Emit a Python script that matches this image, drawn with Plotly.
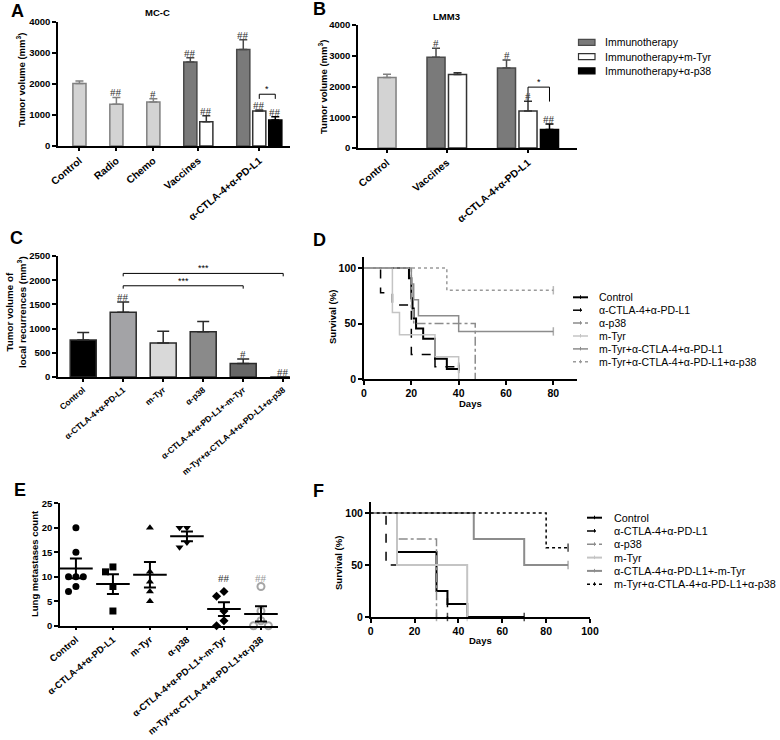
import plotly.graph_objects as go

W, H = 780, 740
def px(x): return x / W
def py(y): return 1 - y / H

FONT = "Liberation Sans"
MARKFONT = "Liberation Serif"

# ---------------- DATA ----------------
# Panel A (MC-C)
A_groups = ["Control", "Radio", "Chemo", "Vaccines", "α-CTLA-4+α-PD-L1"]
A_bars_per_group = [1, 1, 1, 2, 3]
A_single_vals = [2020, 1350, 1420]
A_single_err = [80, 215, 105]
A_single_marks = ["", "##", "#"]
A_immuno_vals = [2710, 3110]
A_immuno_err = [140, 320]
A_immuno_marks = ["##", "##"]
A_mtyr_vals = [785, 1125]
A_mtyr_err = [190, 35]
A_mtyr_marks = ["##", "##"]
A_p38_vals = [835]
A_p38_err = [110]
A_p38_marks = ["##"]
A_bracket_level = 1670

# Panel B (LMM3)
B_groups = ["Control", "Vaccines", "α-CTLA-4+α-PD-L1"]
B_bars_per_group = [1, 2, 3]
B_single_vals = [2290]
B_single_err = [110]
B_immuno_vals = [2950, 2600]
B_immuno_err = [290, 260]
B_immuno_marks = ["#", "#"]
B_mtyr_vals = [2390, 1200]
B_mtyr_err = [60, 320]
B_mtyr_marks = ["", "#"]
B_p38_vals = [605]
B_p38_err = [175]
B_p38_marks = ["##"]
B_bracket_level = 1980
B_legend = ["Immunotherapy", "Immunotherapy+m-Tyr", "Immunotherapy+α-p38"]

# Panel C (local recurrences)
C_groups = ["Control", "α-CTLA-4+α-PD-L1", "m-Tyr", "α-p38",
            "α-CTLA-4+α-PD-L1+-m-Tyr", "m-Tyr+α-CTLA-4+α-PD-L1+α-p38"]
C_vals = [765, 1340, 705, 935, 280, 0]
C_err = [155, 210, 240, 210, 90, 0]
C_marks = ["", "##", "", "", "#", "##"]
C_brackets = [(1, 5, 2140), (1, 4, 1885)]

# Panel D (survival)
D_names = ["Control", "α-CTLA-4+α-PD-L1", "α-p38", "m-Tyr",
           "m-Tyr+α-CTLA-4+α-PD-L1", "m-Tyr+α-CTLA-4+α-PD-L1+α-p38"]
D_days = [
    [0, 19, 20, 20.5, 21, 22, 25, 30, 35, 40],
    [0, 7, 12, 20, 30, 40],
    [0, 20, 21, 47],
    [0, 12, 15, 30, 40],
    [0, 20, 21, 23, 40, 80],
    [0, 35, 80],
]
D_surv = [
    [100, 90.9, 72.7, 63.6, 54.5, 45.5, 36.4, 18.2, 9.1, 9.1],
    [100, 77.8, 66.7, 22.2, 11.1, 11.1],
    [100, 62.5, 50, 0],
    [100, 60, 40, 20, 0],
    [100, 85.7, 71.4, 57.1, 42.9, 42.9],
    [100, 80, 80],
]

# Panel E (lung metastases)
E_groups = ["Control", "α-CTLA-4+α-PD-L1", "m-Tyr", "α-p38",
            "α-CTLA-4+α-PD-L1+-m-Tyr", "m-Tyr+α-CTLA-4+α-PD-L1+α-p38"]
E_values = [
    [20, 15, 10, 10, 10, 8, 7],
    [12, 11, 8, 3],
    [20, 11, 9, 7, 5],
    [20, 20, 17, 16],
    [7, 6, 3, 1, 0],
    [8, 3, 1, 0, 0],
]
E_means = [11.7, 8.5, 10.4, 18.25, 3.4, 2.4]
E_sem = [2.0, 2.0, 2.6, 1.0, 1.4, 1.55]
E_marks = ["", "", "", "", "##", "##"]
E_mark_level = 8.8

# Panel F (survival)
F_names = ["Control", "α-CTLA-4+α-PD-L1", "α-p38", "m-Tyr",
           "α-CTLA-4+α-PD-L1+-m-Tyr", "m-Tyr+α-CTLA-4+α-PD-L1+α-p38"]
F_days = [
    [0, 12, 30, 35, 44, 70],
    [0, 7, 30, 35],
    [0, 12, 30],
    [0, 12, 44],
    [0, 47, 70, 90],
    [0, 80, 90],
]
F_surv = [
    [100, 62.5, 25, 12.5, 0, 0],
    [100, 50, 25, 0],
    [100, 75, 0],
    [100, 50, 0],
    [100, 75, 50, 50],
    [100, 66.7, 66.7],
]

# ---------------- styles ----------------
LIGHT, LIGHT_EDGE = "#d3d3d3", "#808080"
DARK, DARK_EDGE = "#7a7a7a", "#4a4a4a"
WHITE_EDGE = "#333333"
C_colors = ["#000000", "#a3a3a6", "#d9d9d9", "#8a8a8a", "#676767", "#676767"]
D_styles = [
    dict(color="black", width=2, dash="solid"),
    dict(color="black", width=1.5, dash="dash"),
    dict(color="#8c8c8c", width=1.5, dash="dashdot"),
    dict(color="#c4c4c4", width=1.5, dash="solid"),
    dict(color="#8c8c8c", width=1.5, dash="solid"),
    dict(color="#9a9a9a", width=1.5, dash="dot"),
]
F_styles = [
    dict(color="black", width=2, dash="solid"),
    dict(color="black", width=1.5, dash="dash"),
    dict(color="#8c8c8c", width=1.5, dash="dashdot"),
    dict(color="#c4c4c4", width=2, dash="solid"),
    dict(color="#8c8c8c", width=2, dash="solid"),
    dict(color="black", width=1.5, dash="dot"),
]
LABEL_ANGLE = -40

# ---------------- helpers ----------------
def slots(counts, gap):
    pos, out, centres = 0.0, [], []
    for n in counts:
        grp = [pos + i for i in range(n)]
        out.append(grp)
        centres.append(pos + (n - 1) / 2)
        pos += (n - 1) + gap
    return out, centres

fig = go.Figure()
annotations = []
shapes = []

def bar_trace(x, y, err, fill, edge, xa, ya, width=0.8, name=None):
    fig.add_trace(go.Bar(
        x=x, y=y, width=width, name=name,
        marker=dict(color=fill, line=dict(color=edge, width=1.5)),
        error_y=dict(type="data", array=err, arrayminus=[0] * len(err), symmetric=False,
                     color=edge, thickness=1.5, width=4),
        xaxis=xa, yaxis=ya, showlegend=False))

def marks(x, y, err, labels, xref, yref, color="#333", size=11, shift=-3):
    for xi, yi, ei, lab in zip(x, y, err, labels):
        if lab:
            annotations.append(dict(x=xi, y=yi + ei, xref=xref, yref=yref, text=lab,
                                    showarrow=False, xanchor="center", yanchor="bottom", yshift=shift,
                                    font=dict(family=MARKFONT, size=size, color=color)))

def bracket(x1, x2, level, drop, xref, yref, star):
    shapes.append(dict(type="path", xref=xref, yref=yref,
                       path=f"M {x1},{level - drop} L {x1},{level} L {x2},{level} L {x2},{level - drop}",
                       line=dict(color="black", width=1)))
    annotations.append(dict(x=(x1 + x2) / 2, y=level, xref=xref, yref=yref, text=star,
                            showarrow=False, xanchor="center", yanchor="bottom", yshift=-2,
                            font=dict(family=FONT, size=9, color="black")))

def text(txt, x, y, size, bold=True, angle=0, xanchor="center", yanchor="middle"):
    f = dict(family=FONT, size=size, color="black")
    if bold:
        f["weight"] = "bold"
    annotations.append(dict(x=px(x), y=py(y), xref="paper", yref="paper", text=txt,
                            showarrow=False, textangle=angle, font=f,
                            xanchor=xanchor, yanchor=yanchor))

def line_legend(names, styles, x0, x1, xt, y0, dy, size):
    for i, (nm, st) in enumerate(zip(names, styles)):
        yy = y0 + i * dy
        shapes.append(dict(type="line", xref="paper", yref="paper",
                           x0=px(x0), x1=px(x1), y0=py(yy), y1=py(yy),
                           line=dict(color=st["color"], width=st["width"], dash=st["dash"])))
        shapes.append(dict(type="line", xref="paper", yref="paper",
                           x0=px((x0 + x1) / 2), x1=px((x0 + x1) / 2), y0=py(yy - 2), y1=py(yy + 1.5),
                           line=dict(color=st["color"], width=1)))
        text(nm, xt, yy, size, bold=False, xanchor="left")

# ---------------- Panel A ----------------
A_slots, A_centres = slots(A_bars_per_group, 2.31)
xs = [A_slots[i][0] for i in range(3)]
bar_trace(xs, A_single_vals, A_single_err, LIGHT, LIGHT_EDGE, "x", "y", 0.82)
marks(xs, A_single_vals, A_single_err, A_single_marks, "x", "y")
xs = [A_slots[i][0] for i in (3, 4)]
bar_trace(xs, A_immuno_vals, A_immuno_err, DARK, DARK_EDGE, "x", "y", 0.82)
marks(xs, A_immuno_vals, A_immuno_err, A_immuno_marks, "x", "y")
xs = [A_slots[i][1] for i in (3, 4)]
bar_trace(xs, A_mtyr_vals, A_mtyr_err, "white", WHITE_EDGE, "x", "y", 0.82)
marks(xs, A_mtyr_vals, A_mtyr_err, A_mtyr_marks, "x", "y")
xs = [A_slots[4][2]]
bar_trace(xs, A_p38_vals, A_p38_err, "black", "black", "x", "y", 0.82)
marks(xs, A_p38_vals, A_p38_err, A_p38_marks, "x", "y")
bracket(A_slots[4][1], A_slots[4][2], A_bracket_level, 150, "x", "y", "*")

# ---------------- Panel B ----------------
B_slots, B_centres = slots(B_bars_per_group, 2.28)
xs = [B_slots[0][0]]
bar_trace(xs, B_single_vals, B_single_err, LIGHT, LIGHT_EDGE, "x2", "y2", 0.84)
xs = [B_slots[i][0] for i in (1, 2)]
bar_trace(xs, B_immuno_vals, B_immuno_err, DARK, DARK_EDGE, "x2", "y2", 0.84, B_legend[0])
marks(xs, B_immuno_vals, B_immuno_err, B_immuno_marks, "x2", "y2")
xs = [B_slots[i][1] for i in (1, 2)]
bar_trace(xs, B_mtyr_vals, B_mtyr_err, "white", WHITE_EDGE, "x2", "y2", 0.84, B_legend[1])
marks(xs, B_mtyr_vals, B_mtyr_err, B_mtyr_marks, "x2", "y2")
xs = [B_slots[2][2]]
bar_trace(xs, B_p38_vals, B_p38_err, "black", "black", "x2", "y2", 0.84, B_legend[2])
marks(xs, B_p38_vals, B_p38_err, B_p38_marks, "x2", "y2")
bracket(B_slots[2][1], B_slots[2][2], B_bracket_level, 470, "x2", "y2", "*")

# legend for B (swatches)
for i, (nm, fill, edge) in enumerate(zip(B_legend, [DARK, "white", "black"], [DARK_EDGE, WHITE_EDGE, "black"])):
    yy = 42.3 + i * 14.3
    shapes.append(dict(type="rect", xref="paper", yref="paper",
                       x0=px(578.5), x1=px(595), y0=py(yy + 3), y1=py(yy - 3),
                       fillcolor=fill, line=dict(color=edge, width=1.2)))
    text(nm, 603, yy, 10.5, bold=False, xanchor="left")

# ---------------- Panel C ----------------
fig.add_trace(go.Bar(
    x=list(range(len(C_groups))), y=C_vals, width=0.65,
    marker=dict(color=C_colors, line=dict(color="#2a2a2a", width=1.5)),
    error_y=dict(type="data", array=C_err, arrayminus=[0] * len(C_err), symmetric=False,
                 color="#2a2a2a", thickness=1.5, width=6),
    xaxis="x3", yaxis="y3", showlegend=False))
marks(list(range(len(C_groups))), C_vals, C_err, C_marks, "x3", "y3")
for a, b, lvl in C_brackets:
    bracket(a, b, lvl, 60, "x3", "y3", "***")

# ---------------- Panel D ----------------
for name, t, s, st in zip(D_names, D_days, D_surv, D_styles):
    sizes = [0] * (len(t) - 1) + [6 if s[-1] > 0 else 0]
    fig.add_trace(go.Scatter(
        x=t, y=s, mode="lines+markers", line=dict(shape="hv", **st),
        marker=dict(symbol="line-ns-open", size=sizes, line=dict(color=st["color"], width=1.5)),
        name=name, xaxis="x4", yaxis="y4", showlegend=False, cliponaxis=False))
line_legend(D_names, D_styles, 573, 588, 597, 297.3, 12.9, 10.5)

# ---------------- Panel E ----------------
E_symbols = ["circle", "square", "triangle-up", "triangle-down", "diamond", "circle-open"]
E_colors = ["black", "black", "black", "black", "black", "#a6a6a6"]
PXU = 4.9   # pixels per count unit
STEP = 0.2  # horizontal spread between overlapping points (category units)
for gi, vals in enumerate(E_values):
    placed = []
    xs = []
    for v in vals:
        for k in [0, -1, 1, -2, 2]:
            off = k * STEP
            if all(abs((v - pv) * PXU) >= 7.5 or abs(off - po) > 1e-9 for pv, po in placed):
                break
        placed.append((v, off))
        xs.append(gi + off)
    fig.add_trace(go.Scatter(
        x=xs, y=vals, mode="markers",
        marker=dict(symbol=E_symbols[gi], size=7, color=E_colors[gi],
                    line=dict(color=E_colors[gi], width=2 if gi == 5 else 0)),
        xaxis="x5", yaxis="y5", showlegend=False, cliponaxis=False))
fig.add_trace(go.Scatter(
    x=list(range(len(E_groups))), y=E_means, mode="markers",
    marker=dict(symbol="line-ew", size=24, line=dict(color="black", width=2)),
    error_y=dict(type="data", array=E_sem, color="black", thickness=2, width=6),
    xaxis="x5", yaxis="y5", showlegend=False, cliponaxis=False))
for gi, lab in enumerate(E_marks):
    if lab:
        annotations.append(dict(x=gi, y=E_mark_level, xref="x5", yref="y5", text=lab,
                                showarrow=False, xanchor="center", yanchor="bottom", yshift=-3,
                                font=dict(family=MARKFONT, size=11,
                                          color="#999" if gi == 5 else "#333")))

# ---------------- Panel F ----------------
for name, t, s, st in zip(F_names, F_days, F_surv, F_styles):
    sizes = [0] * (len(t) - 1) + [6]
    fig.add_trace(go.Scatter(
        x=t, y=s, mode="lines+markers", line=dict(shape="hv", **st),
        marker=dict(symbol="line-ns-open", size=sizes, line=dict(color=st["color"], width=1.5)),
        name=name, xaxis="x6", yaxis="y6", showlegend=False, cliponaxis=False))
line_legend(F_names, F_styles, 587, 602, 612, 517.7, 13.3, 10.8)

# ---------------- axes ----------------
def axstyle(**kw):
    d = dict(showline=True, linecolor="black", linewidth=1.5, showgrid=False, zeroline=False,
             ticks="outside", ticklen=4, tickwidth=1.5, tickcolor="black", automargin=False,
             tickfont=dict(family=FONT, size=9.5, color="black", weight="bold"))
    d.update(kw)
    return d

labfont = lambda s: dict(family=FONT, size=s, color="black", weight="bold")

fig.update_layout(
    xaxis=axstyle(domain=[px(58), px(290)], range=[-1.34, 13.16], anchor="y",
                  tickvals=A_centres, ticktext=A_groups, tickangle=LABEL_ANGLE, ticklen=3,
                  tickfont=labfont(10.3)),
    yaxis=axstyle(domain=[py(146), py(22)], range=[0, 4000], anchor="x", dtick=1000),
    xaxis2=axstyle(domain=[px(358), px(577)], range=[-1.35, 8.84], anchor="y2",
                   tickvals=B_centres, ticktext=B_groups, tickangle=LABEL_ANGLE, ticklen=3,
                   tickfont=labfont(10.3)),
    yaxis2=axstyle(domain=[py(148), py(25)], range=[0, 4000], anchor="x2", dtick=1000),
    xaxis3=axstyle(domain=[px(58), px(290)], range=[-0.63, 5.17], anchor="y3",
                   tickvals=list(range(len(C_groups))), ticktext=C_groups, ticklen=3,
                   tickangle=LABEL_ANGLE, tickfont=labfont(8.5)),
    yaxis3=axstyle(domain=[py(377), py(256)], range=[0, 2500], anchor="x3", dtick=500),
    xaxis4=axstyle(domain=[px(364), px(577)], range=[0, 90], anchor="y4",
                   tickvals=[0, 20, 40, 60, 80], tickfont=labfont(10.5)),
    yaxis4=axstyle(domain=[py(379), py(257)], range=[0, 110], anchor="x4",
                   tickvals=[0, 50, 100], tickfont=labfont(10.5)),
    xaxis5=axstyle(domain=[px(60), px(278)], range=[-0.43, 5.46], anchor="y5",
                   tickvals=list(range(len(E_groups))), ticktext=E_groups, ticklen=3,
                   tickangle=LABEL_ANGLE, tickfont=labfont(9.5)),
    yaxis5=axstyle(domain=[py(625.7), py(503.3)], range=[0, 25], anchor="x5", dtick=5),
    xaxis6=axstyle(domain=[px(370.7), px(590)], range=[0, 100], anchor="y6",
                   dtick=20, tickfont=labfont(10.5)),
    yaxis6=axstyle(domain=[py(617), py(502)], range=[0, 110.6], anchor="x6",
                   tickvals=[0, 50, 100], tickfont=labfont(10.5)),
)

# axis titles
text("Tumor volume (mm<sup>3</sup>)", 21, 80, 9.5, angle=-90)
text("Tumor volume (mm<sup>3</sup>)", 323, 87, 9.5, angle=-90)
text("Tumor volume of<br>local recurrences (mm<sup>3</sup>)", 16, 312, 9.8, angle=-90)
text("Survival (%)", 333, 317, 9.5, angle=-90)
text("Days", 470, 403, 9.5)
text("Lung metastases count", 34, 564, 9.5, angle=-90)
text("Survival (%)", 338, 563, 9.5, angle=-90)
text("Days", 480, 640, 9.5)

# titles and panel letters
text("MC-C", 157, 12, 9.5)
text("LMM3", 447, 16, 9.5)
for txt, x, y in [("A", 17, 11), ("B", 319, 9), ("C", 16, 238), ("D", 319, 240),
                  ("E", 20, 490), ("F", 318, 491)]:
    text(txt, x, y, 18)

fig.update_layout(
    width=W, height=H, margin=dict(l=0, r=0, t=0, b=0, autoexpand=False),
    paper_bgcolor="white", plot_bgcolor="white", showlegend=False,
    barmode="overlay", annotations=annotations, shapes=shapes,
)

# the page's default 8px body margin would shift the figure; remove it
fig.write_html("out.html", config={"displayModeBar": False},
               post_script="document.body.style.margin='0';document.body.style.overflow='hidden';")
